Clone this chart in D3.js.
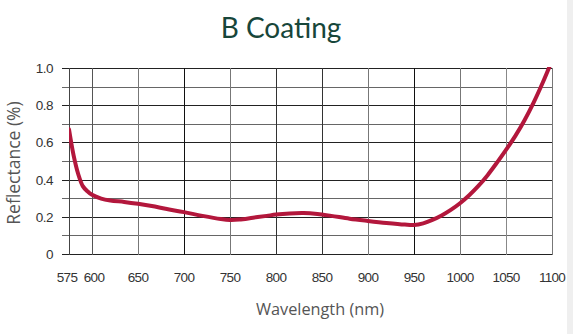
<!DOCTYPE html>
<html><head><meta charset="utf-8">
<script src="https://cdn.jsdelivr.net/npm/d3@7"></script>
<style>body{margin:0;background:#fff;}svg{display:block;}</style>
</head><body>
<script>
const title = "B Coating";
const xLabel = "Wavelength (nm)";
const yLabel = "Reflectance (%)";
const xTicks = [575, 600, 650, 700, 750, 800, 850, 900, 950, 1000, 1050, 1100];
const yTicks = [0, 0.1, 0.2, 0.3, 0.4, 0.5, 0.6, 0.7, 0.8, 0.9, 1.0];
const yLabelTicks = [0, 0.2, 0.4, 0.6, 0.8, 1.0];
const wavelengths = [575,580,585,590,595,600,610,620,635,650,665,680,700,720,740,750,760,775,790,800,815,830,845,860,880,900,920,940,950,960,970,980,990,1000,1010,1020,1030,1040,1050,1060,1070,1080,1090,1100];
const reflectance = [0.67,0.53,0.43,0.365,0.337,0.318,0.298,0.288,0.28,0.27,0.258,0.243,0.225,0.205,0.188,0.183,0.185,0.195,0.205,0.212,0.218,0.22,0.215,0.205,0.19,0.178,0.167,0.158,0.156,0.165,0.183,0.207,0.237,0.273,0.316,0.366,0.424,0.49,0.56,0.634,0.718,0.814,0.922,1.04];

const W = 573, H = 334;
const m = {left: 69, right: 21, top: 68, bottom: 80};
const svg = d3.select("body").append("svg").attr("width", W).attr("height", H);
svg.append("rect").attr("x", 567).attr("y", 0).attr("width", 6).attr("height", H).attr("fill", "#efefef");

const x = d3.scaleLinear().domain([575, 1100]).range([m.left, W - m.right]);
const y = d3.scaleLinear().domain([0, 1]).range([H - m.bottom, m.top]);

// horizontal grid
svg.append("g").selectAll("line").data(yTicks).join("line")
  .attr("x1", x(575) - 7).attr("x2", x(1100))
  .attr("y1", d => Math.round(y(d)) + 0.5).attr("y2", d => Math.round(y(d)) + 0.5)
  .attr("stroke", (d, i) => i % 2 === 0 ? "#222" : "#666").attr("stroke-width", 1);

// vertical grid
const vCol = {575:"#444",600:"#555",650:"#777",700:"#111",750:"#777",800:"#333",850:"#333",900:"#777",950:"#111",1000:"#777",1050:"#888",1100:"#777"};
svg.append("g").selectAll("line").data(xTicks).join("line")
  .attr("x1", d => Math.round(x(d)) + 0.5).attr("x2", d => Math.round(x(d)) + 0.5)
  .attr("y1", y(1)).attr("y2", y(0) + 1)
  .attr("stroke", d => vCol[d]).attr("stroke-width", 1);

const font = "'Liberation Sans', Arial, sans-serif";
// y tick labels
svg.append("g").selectAll("text").data(yLabelTicks).join("text")
  .attr("x", 53).attr("y", d => y(d) + 5)
  .attr("text-anchor", "end").attr("font-family", font).attr("font-size", 13.5)
  .attr("letter-spacing", -0.5)
  .attr("fill", "#333").text(d => d === 0 ? "0" : d3.format(".1f")(d));
// x tick labels
svg.append("g").selectAll("text").data(xTicks).join("text")
  .attr("x", d => x(d) + (d === 575 ? -2 : d === 600 ? 2 : 0)).attr("y", 282)
  .attr("text-anchor", "middle").attr("font-family", font).attr("font-size", 13.5)
  .attr("letter-spacing", -0.7)
  .attr("fill", "#333").text(d => d);

// axis titles
svg.append("text").attr("x", 320).attr("y", 315).attr("text-anchor", "middle")
  .attr("font-family", "'Open Sans', sans-serif").attr("font-size", 16.3).attr("fill", "#555").text(xLabel);
svg.append("text").attr("transform", "translate(20,163) rotate(-90)").attr("text-anchor", "middle")
  .attr("font-family", "'Open Sans', sans-serif").attr("font-size", 17.5).attr("fill", "#555").text(yLabel);

// title
svg.append("text").attr("x", 281).attr("y", 38).attr("text-anchor", "middle")
  .attr("font-family", "Lato, sans-serif").attr("font-size", 28).attr("fill", "#17463a").text(title);

// clip & curve
svg.append("clipPath").attr("id", "clip").append("rect")
  .attr("x", x(575)).attr("y", y(1) - 1).attr("width", x(1100) - x(575)).attr("height", y(0) - y(1) + 2);
const data = wavelengths.map((w, i) => [w, reflectance[i]]);
svg.append("path").datum(data).attr("clip-path", "url(#clip)")
  .attr("d", d3.line().x(d => x(d[0])).y(d => y(d[1])).curve(d3.curveCatmullRom))
  .attr("fill", "none").attr("stroke", "#b3173c").attr("stroke-width", 4).attr("stroke-linecap", "round");
</script>
</body></html>
